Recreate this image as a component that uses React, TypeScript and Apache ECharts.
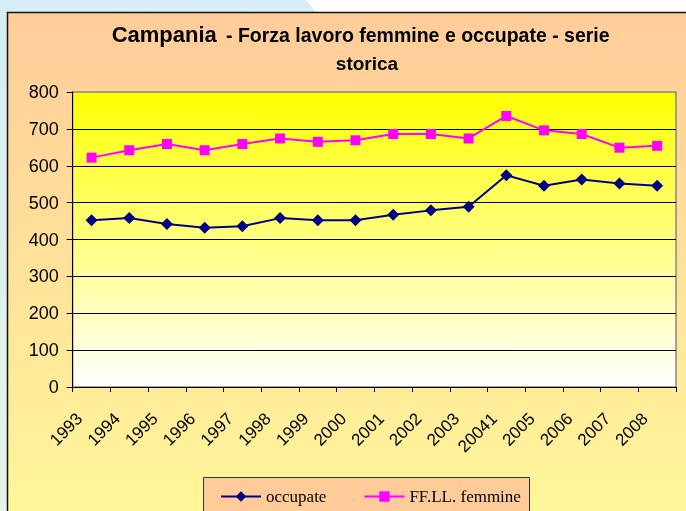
import React, { useEffect, useRef } from "react";
import * as echarts from "echarts";

const categories = ["1993", "1994", "1995", "1996", "1997", "1998", "1999", "2000", "2001", "2002", "2003", "20041", "2005", "2006", "2007", "2008"];
const occupate = [452, 458, 442, 432, 436, 458, 452, 452, 467, 479, 489, 574, 546, 563, 552, 546];
const femmine = [622, 642, 659, 642, 659, 674, 665, 669, 686, 686, 674, 735, 696, 686, 649, 654];
const seriesNames = ["occupate", "FF.LL. femmine"];
const yMin = 0;
const yMax = 800;
const yInterval = 100;

const SANS = "'Liberation Sans', Arial, sans-serif";
const SERIF = "'Liberation Serif', 'Times New Roman', serif";

export default function App() {
  const ref = useRef<HTMLDivElement>(null);
  useEffect(() => {
    if (!ref.current) return;
    const chart = echarts.init(ref.current, undefined, { renderer: "svg" });
    const LG = echarts.graphic.LinearGradient;
    chart.setOption({
      animation: false,
      graphic: [
        {
          type: "rect", z: -30, silent: true,
          shape: { x: 0, y: 0, width: 686, height: 511 },
          style: { fill: new LG(0, 0, 0, 1, [{ offset: 0, color: "#D5EDF4" }, { offset: 1, color: "#E6F3EA" }]) },
        },
        {
          type: "polygon", z: -29, silent: true,
          shape: { points: [[306, 0], [686, 0], [686, 12], [316, 12]] },
          style: { fill: "#FFFFFF" },
        },
        {
          type: "rect", z: -20, silent: true,
          shape: { x: 7.5, y: 12.5, width: 700, height: 510 },
          style: {
            fill: new LG(0, 0, 0, 1, [{ offset: 0, color: "#FFCC99" }, { offset: 1, color: "#FFF799" }]),
            stroke: "#111", lineWidth: 1.5,
          },
        },
        {
          type: "rect", z: -10, silent: true,
          shape: { x: 203.5, y: 477.5, width: 326, height: 45 },
          style: { fill: "#FFCC99", stroke: "#333", lineWidth: 1 },
        },
        {
          type: "text", z: 5, silent: true,
          style: { x: 111.7, y: 34.1, text: "Campania", font: `bold 22px ${SANS}`, fill: "#000", textAlign: "left", textVerticalAlign: "middle" },
        },
        {
          type: "text", z: 5, silent: true,
          style: { x: 226, y: 34.9, text: "- Forza lavoro femmine e occupate - serie", font: `bold 19.5px ${SANS}`, fill: "#000", textAlign: "left", textVerticalAlign: "middle" },
        },
        {
          type: "text", z: 5, silent: true,
          style: { x: 367, y: 63.5, text: "storica", font: `bold 19px ${SANS}`, fill: "#000", textAlign: "center", textVerticalAlign: "middle" },
        },
      ],
      grid: {
        left: 72.7, right: 10, top: 92, bottom: 124, containLabel: false,
        show: true,
        backgroundColor: new LG(0, 0, 0, 1, [{ offset: 0, color: "#FFFF00" }, { offset: 1, color: "#FFFFFF" }]),
        borderColor: "#888888", borderWidth: 1.5,
      },
      legend: {
        data: seriesNames,
        left: 220, top: 488, padding: 0,
        itemWidth: 40, itemHeight: 13, itemGap: 37,
        textStyle: { fontFamily: SERIF, fontSize: 17, color: "#000" },
      },
      xAxis: {
        type: "category",
        data: categories,
        boundaryGap: true,
        axisLine: { show: true, lineStyle: { color: "#000", width: 1 } },
        axisTick: { show: true, length: 5, lineStyle: { color: "#000" } },
        axisLabel: {
          rotate: 45, interval: 0, margin: 17, padding: [0, 17, 0, 0],
          fontFamily: SANS, fontSize: 17, color: "#000",
        },
        splitLine: { show: false },
      },
      yAxis: {
        type: "value", min: yMin, max: yMax, interval: yInterval,
        axisLine: { show: true, lineStyle: { color: "#000", width: 1 } },
        axisTick: { show: true, length: 6, lineStyle: { color: "#000" } },
        axisLabel: { margin: 14, fontFamily: SANS, fontSize: 18, color: "#000" },
        splitLine: { show: true, showMaxLine: false, lineStyle: { color: "#000", width: 1 } },
      },
      series: [
        {
          name: seriesNames[0], type: "line", data: occupate,
          symbol: "diamond", symbolSize: 12,
          lineStyle: { color: "#000080", width: 2 },
          itemStyle: { color: "#000080" },
        },
        {
          name: seriesNames[1], type: "line", data: femmine,
          symbol: "rect", symbolSize: 10,
          lineStyle: { color: "#FF00FF", width: 2 },
          itemStyle: { color: "#FF00FF" },
        },
      ],
    });
    return () => chart.dispose();
  }, []);
  return <div ref={ref} style={{ position: "fixed", left: 0, top: 0, width: 686, height: 511 }} />;
}
